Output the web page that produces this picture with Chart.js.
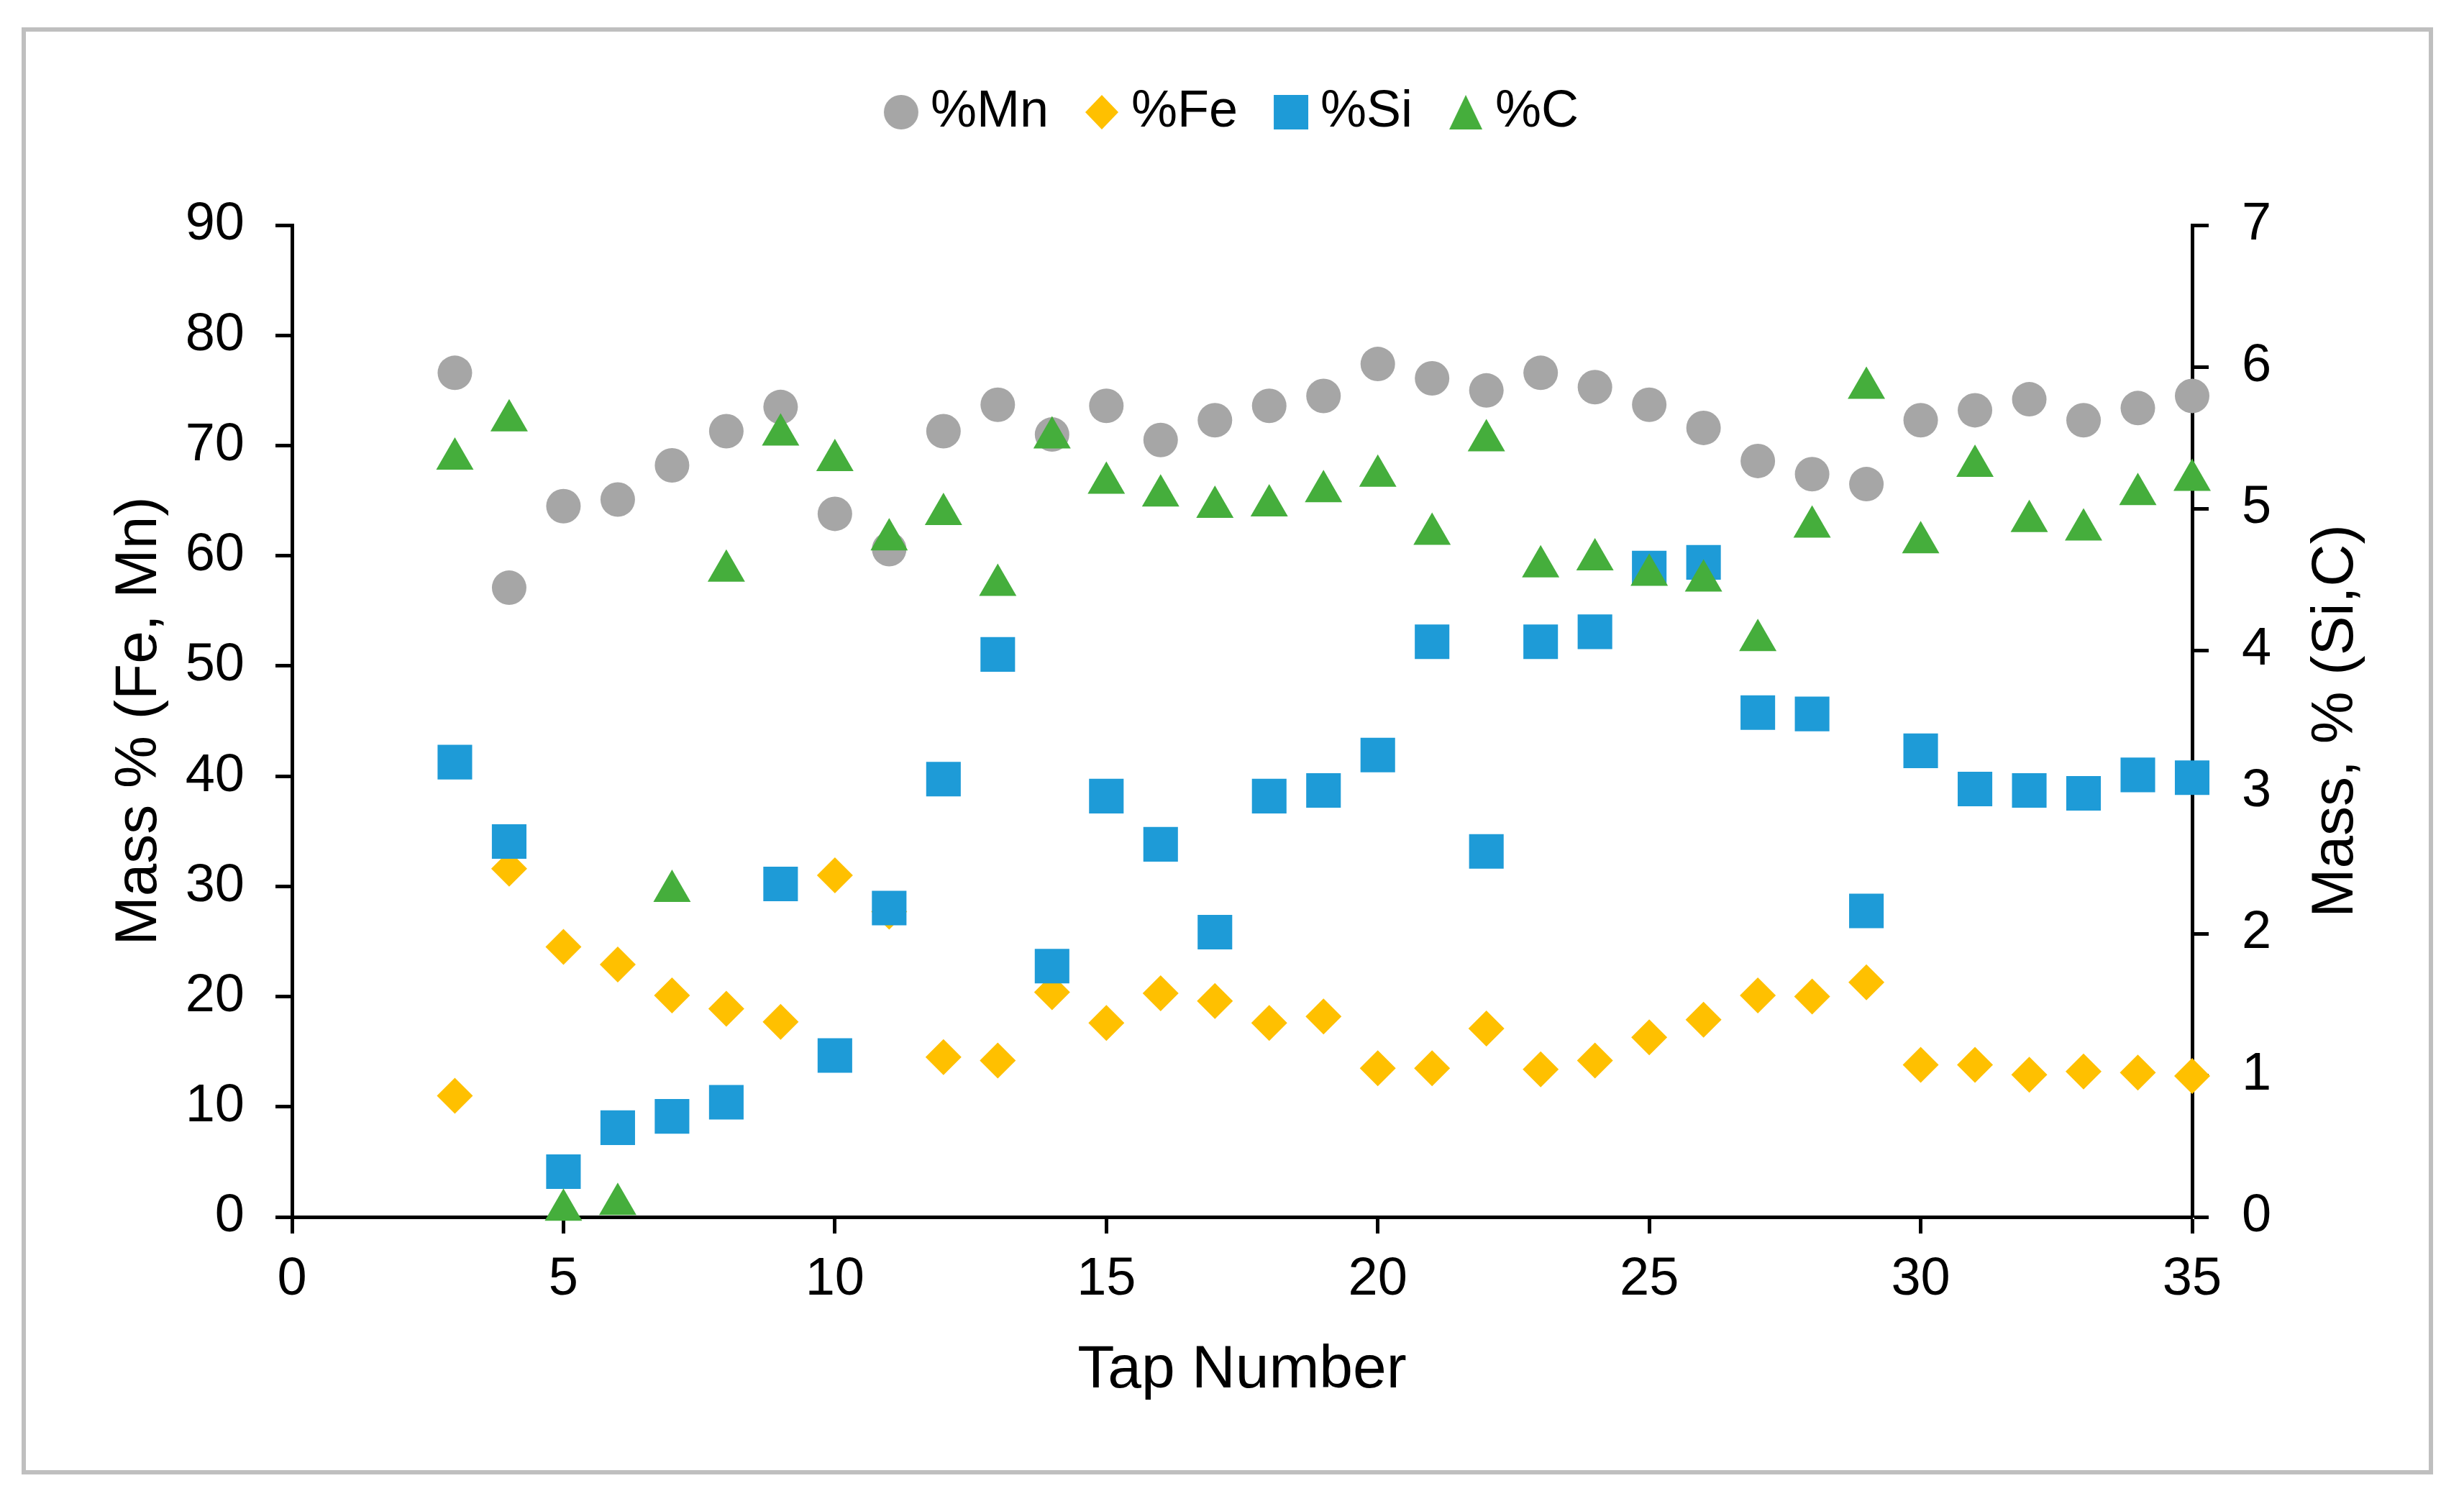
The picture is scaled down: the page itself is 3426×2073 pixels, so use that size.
<!DOCTYPE html>
<html>
<head>
<meta charset="utf-8">
<script src="https://cdn.jsdelivr.net/npm/chart.js@4.4.1/dist/chart.umd.min.js"></script>
<style>
html,body{margin:0;padding:0;background:#fff;}
canvas{display:block;}
</style>
</head>
<body>
<canvas id="c" width="3426" height="2073" style="width:3426px;height:2073px"></canvas>
<script>
// ---- data ----
const tapNumbers = [3,4,5,6,7,8,9,10,11,12,13,14,15,16,17,18,19,20,21,22,23,24,25,26,27,28,29,30,31,32,33,34,35];
const mnValues = [76.6,57.1,64.5,65.1,68.2,71.3,73.5,63.8,60.6,71.3,73.7,71.0,73.6,70.5,72.3,73.6,74.5,77.4,76.1,75.0,76.6,75.3,73.7,71.6,68.6,67.4,66.5,72.3,73.2,74.2,72.3,73.4,74.5];
const feValues = [11.0,31.6,24.5,22.9,20.1,18.9,17.7,31.0,27.7,14.5,14.2,20.4,17.6,20.3,19.6,17.6,18.2,13.5,13.5,17.1,13.4,14.2,16.3,17.9,20.1,20.0,21.3,13.8,13.8,12.9,13.2,13.1,12.8];
const siValues = [3.21,2.65,0.32,0.63,0.71,0.81,2.35,1.14,2.18,3.09,3.97,1.77,2.97,2.63,2.01,2.97,3.01,3.26,4.06,2.58,4.06,4.13,4.58,4.62,3.56,3.55,2.16,3.29,3.02,3.01,2.99,3.12,3.10];
const cValues = [5.35,5.62,0.05,0.09,2.30,4.56,5.52,5.34,4.78,4.96,4.46,5.50,5.18,5.09,5.01,5.02,5.12,5.23,4.82,5.48,4.59,4.64,4.53,4.49,4.07,4.87,5.85,4.76,5.30,4.91,4.85,5.10,5.20];
const seriesNames = ['%Mn','%Fe','%Si','%C'];
const xTitle = 'Tap Number';
const yLeftTitle = 'Mass % (Fe, Mn)';
const yRightTitle = 'Mass, % (Si,C)';

// ---- styling ----
const FONT = "'Liberation Sans', Arial, sans-serif";
const COLORS = {mn:'#A6A6A6', fe:'#FFC000', si:'#1E9BD7', c:'#45AE3C'};

function pts(vals){ return tapNumbers.map((t,i)=>({x:t, y:vals[i]})); }

function markerCanvas(kind, color){
  const cv = document.createElement('canvas');
  cv.width = 50; cv.height = 50;
  const g = cv.getContext('2d');
  g.fillStyle = color;
  g.beginPath();
  if (kind === 'circle') { g.arc(25,25,24,0,Math.PI*2); }
  else if (kind === 'diamond') { g.moveTo(25,1); g.lineTo(48,25); g.lineTo(25,49); g.lineTo(2,25); g.closePath(); }
  else if (kind === 'square') { g.rect(1,1,48,48); }
  else { g.moveTo(25,1); g.lineTo(48,49); g.lineTo(2,49); g.closePath(); }
  g.fill();
  return cv;
}
const legendIcons = [
  markerCanvas('circle', COLORS.mn),
  markerCanvas('diamond', COLORS.fe),
  markerCanvas('square', COLORS.si),
  markerCanvas('triangle', COLORS.c)
];

const framePlugin = {
  id: 'frame',
  beforeDraw(chart){
    const ctx = chart.ctx;
    ctx.save();
    ctx.fillStyle = '#ffffff';
    ctx.fillRect(0,0,chart.width,chart.height);
    ctx.strokeStyle = '#BFBFBF';
    ctx.lineWidth = 6;
    ctx.strokeRect(33,41,3347,2006);
    ctx.restore();
  }
};

const rightTitlePlugin = {
  id: 'rightTitle',
  afterDraw(chart){
    const s = chart.scales.y1;
    const ctx = chart.ctx;
    const ca = chart.chartArea;
    ctx.save();
    ctx.translate(s.right - 50, (ca.top + ca.bottom) / 2);
    ctx.rotate(-Math.PI/2);
    ctx.fillStyle = '#000';
    ctx.font = '82px ' + FONT;
    ctx.textAlign = 'center';
    ctx.textBaseline = 'middle';
    ctx.fillText(yRightTitle, 0, 0);
    ctx.restore();
  }
};

const legendHeightPlugin = {
  id: 'legendHeight',
  beforeInit(chart){
    const orig = chart.legend.fit;
    chart.legend.fit = function(){ orig.call(this); this.height = 262; };
  }
};

const tickFont = {family: FONT, size: 74};
const gridOpts = {display:true, drawOnChartArea:false, drawTicks:true, tickLength:23, tickWidth:5, tickColor:'#000'};
const borderOpts = {display:true, color:'#000', width:5};

new Chart(document.getElementById('c'), {
  type: 'scatter',
  data: {
    datasets: [
      {label: seriesNames[0], data: pts(mnValues), yAxisID:'y', pointStyle:'circle', pointRadius:24, pointHoverRadius:24, backgroundColor:COLORS.mn, borderColor:COLORS.mn, borderWidth:0, order:4, clip:false},
      {label: seriesNames[1], data: pts(feValues), yAxisID:'y', pointStyle:'rectRot', pointRadius:25, pointHoverRadius:25, backgroundColor:COLORS.fe, borderColor:COLORS.fe, borderWidth:0, order:3, clip:false},
      {label: seriesNames[2], data: pts(siValues), yAxisID:'y1', pointStyle:'rect', pointRadius:34, pointHoverRadius:34, backgroundColor:COLORS.si, borderColor:COLORS.si, borderWidth:0, order:2, clip:false},
      {label: seriesNames[3], data: pts(cValues), yAxisID:'y1', pointStyle:'triangle', pointRadius:30, pointHoverRadius:30, backgroundColor:COLORS.c, borderColor:COLORS.c, borderWidth:0, order:1, clip:false}
    ]
  },
  options: {
    responsive: false,
    animation: false,
    devicePixelRatio: 1,
    layout: {padding: {top:51, left:145, right:128, bottom:117}},
    plugins: {
      tooltip: {enabled:false},
      legend: {
        display: true,
        position: 'top',
        labels: {
          usePointStyle: true,
          boxWidth: 10,
          boxHeight: 34,
          padding: 69,
          color: '#000',
          font: {family: FONT, size: 72},
          sort: (a, b) => a.datasetIndex - b.datasetIndex,
          generateLabels(chart){
            const items = Chart.defaults.plugins.legend.labels.generateLabels(chart);
            items.forEach((it)=>{ it.pointStyle = legendIcons[it.datasetIndex]; it.lineWidth = 0; });
            return items;
          }
        }
      }
    },
    scales: {
      x: {
        type:'linear', position:'bottom', min:0, max:35,
        ticks:{stepSize:5, color:'#000', font:tickFont, padding:20, maxRotation:0},
        grid: gridOpts, border: borderOpts,
        title:{display:true, text:xTitle, color:'#000', font:{family:FONT, size:84}, padding:0},
        afterFit(s){ s.height = 264; }
      },
      y: {
        type:'linear', position:'left', min:0, max:90,
        ticks:{stepSize:10, color:'#000', font:tickFont, padding:43},
        grid: gridOpts, border: borderOpts,
        title:{display:true, text:yLeftTitle, color:'#000', font:{family:FONT, size:82}, padding:0},
        afterFit(s){ s.width = 261; }
      },
      y1: {
        type:'linear', position:'right', min:0, max:7,
        ticks:{stepSize:1, color:'#000', font:tickFont, padding:46},
        grid: gridOpts, border: borderOpts,
        title:{display:false, text:yRightTitle},
        afterFit(s){ s.width = 250; }
      }
    }
  },
  plugins: [framePlugin, rightTitlePlugin, legendHeightPlugin]
});
</script>
</body>
</html>
